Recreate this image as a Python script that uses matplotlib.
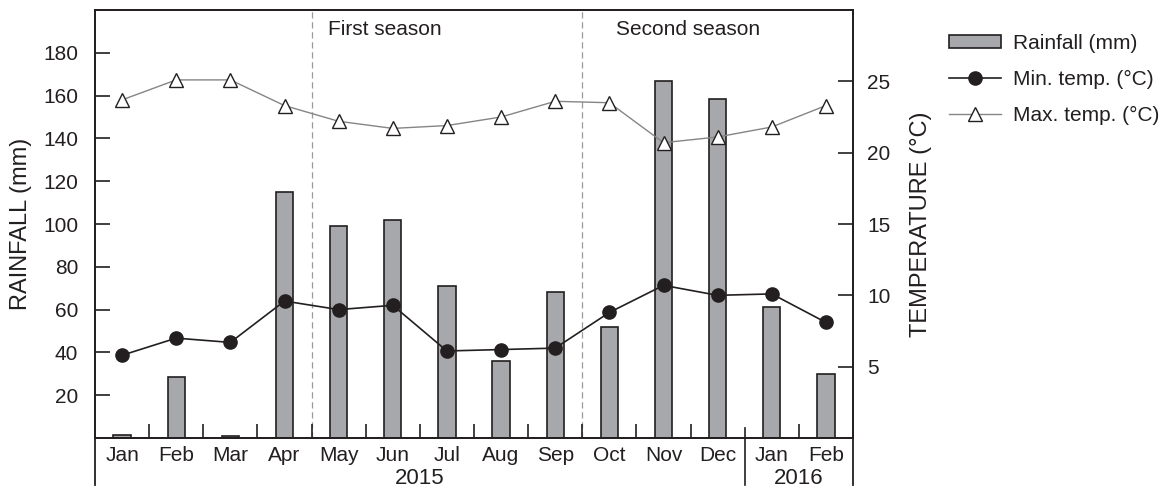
import matplotlib.pyplot as plt
import numpy as np

plt.rcParams['font.family'] = ['Liberation Sans', 'DejaVu Sans']

months = ["Jan", "Feb", "Mar", "Apr", "May", "Jun", "Jul", "Aug", "Sep", "Oct", "Nov", "Dec", "Jan", "Feb"]
years = ["2015", "2016"]
rainfall = [1.5, 28.3, 0.8, 115.1, 99.2, 102.0, 71.1, 35.9, 68.2, 52.1, 166.9, 158.3, 61.0, 29.8]
min_temp = [5.8, 7.0, 6.7, 9.6, 9.0, 9.3, 6.1, 6.2, 6.3, 8.8, 10.7, 10.0, 10.1, 8.1]
max_temp = [23.7, 25.1, 25.1, 23.3, 22.2, 21.7, 21.9, 22.5, 23.6, 23.5, 20.7, 21.1, 21.8, 23.3]
seasons = ["First season", "Second season"]

ink = "#231f20"
fs = 15
x = np.arange(len(months))

fig = plt.figure(figsize=(11.7, 4.9), dpi=100)
ax = fig.add_axes([95 / 1170, 52 / 490, 758 / 1170, 428 / 490])
ax2 = ax.twinx()

bars = ax.bar(x, rainfall, width=0.32, color="#a7a8ab", edgecolor=ink, linewidth=1.2,
              label="Rainfall (mm)", zorder=2)
ln_min, = ax2.plot(x, min_temp, color=ink, lw=1.2, marker="o", ms=9.5,
                   mfc=ink, mec=ink, label="Min. temp. (°C)", zorder=3)
ln_max, = ax2.plot(x, max_temp, color="#858585", lw=1.0, marker="^", ms=10,
                   mfc="white", mec=ink, mew=1.0, label="Max. temp. (°C)", zorder=3)

ax.set_xlim(-0.5, len(months) - 0.5)
ax.set_ylim(0, 200)
ax2.set_ylim(0, 30)
ax.set_yticks(range(20, 181, 20))
ax2.set_yticks(range(5, 26, 5))

ax.set_xticks(x)
ax.set_xticklabels(months)
ax.set_xticks([b + 0.5 for b in range(len(months) - 1) if b != 11], minor=True)
ax.tick_params(axis="x", which="major", length=0, pad=6, labelsize=fs, colors=ink)
ax.tick_params(axis="x", which="minor", direction="in", length=10, width=1.2, color=ink)
ax.tick_params(axis="y", direction="in", length=11, width=1.2, pad=12, labelsize=fs,
               colors=ink)
ax2.tick_params(axis="y", direction="in", length=11, width=1.2, pad=10, labelsize=fs,
                colors=ink)

for a in (ax, ax2):
    for s in a.spines.values():
        s.set_color(ink)
        s.set_linewidth(1.3)

ax.set_ylabel("RAINFALL (mm)", fontsize=17, color=ink, labelpad=8)
ax2.set_ylabel("TEMPERATURE (°C)", fontsize=17, color=ink, labelpad=14)

# season dividers
for b in (3.5, 8.5):
    ax.axvline(b, color="#9a9a9a", lw=0.9, ls=(0, (5, 3)), zorder=1)
ax.text(3.8, 0.955, seasons[0], transform=ax.get_xaxis_transform(), fontsize=fs,
        color=ink, va="center", ha="left")
ax.text(9.12, 0.955, seasons[1], transform=ax.get_xaxis_transform(), fontsize=fs,
        color=ink, va="center", ha="left")

# year brackets below the month labels
xt = ax.get_xaxis_transform()
ax.plot([-0.5, -0.5], [0, -0.11], transform=xt, color=ink, lw=1.3, clip_on=False)
ax.plot([13.5, 13.5], [0, -0.11], transform=xt, color=ink, lw=1.3, clip_on=False)
ax.plot([11.5, 11.5], [10 / 428, -0.11], transform=xt, color=ink, lw=1.2, clip_on=False)
ax.text(5.5, -0.095, years[0], transform=xt, fontsize=fs + 1, color=ink, ha="center", va="center")
ax.text(12.5, -0.095, years[1], transform=xt, fontsize=fs + 1, color=ink, ha="center", va="center")

leg = fig.legend([bars, ln_min, ln_max], [bars.get_label(), ln_min.get_label(), ln_max.get_label()],
                 loc="upper left", bbox_to_anchor=(949 / 1170, 1 - 34 / 490), frameon=False,
                 fontsize=fs, handlelength=2.5, handletextpad=0.55, labelspacing=0.82,
                 handleheight=0.62, borderaxespad=0, borderpad=0)
for t in leg.get_texts():
    t.set_color(ink)

fig.savefig("out.png", dpi=100)
